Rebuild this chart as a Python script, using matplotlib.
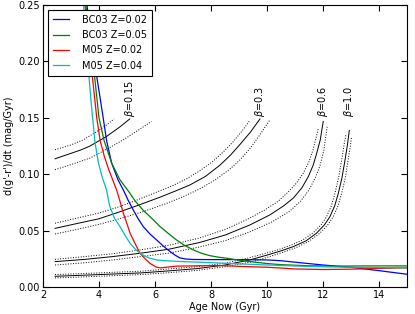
import matplotlib
matplotlib.use("Agg")
import matplotlib.pyplot as plt

# model curves
cyan_x = [3.45, 3.55, 3.63, 3.74, 3.86, 3.98, 4.12, 4.27, 4.38, 4.55, 4.75, 4.95, 5.11, 5.3, 5.46, 5.65, 5.82, 6.05, 6.3,
          7.0, 8.0, 9.0, 10.0, 11.0, 12.0, 13.0, 14.0, 15.0]
cyan_y = [0.25, 0.215, 0.19, 0.158, 0.128, 0.110, 0.097, 0.086, 0.072, 0.061, 0.0536, 0.045, 0.0388, 0.0335, 0.030, 0.0272,
          0.0255, 0.024, 0.0234, 0.0225, 0.0216, 0.0205, 0.0195, 0.0186, 0.0179, 0.0175, 0.0172, 0.0170]

red_x = [3.5, 3.62, 3.77, 3.92, 4.04, 4.2, 4.35, 4.49, 4.63, 4.75, 4.87, 5.0, 5.11, 5.3, 5.46, 5.65, 5.82, 5.95, 6.06, 6.2,
         6.4, 6.77, 7.5, 8.3, 9.0, 10.0, 10.5, 11.0, 12.0, 13.0, 14.0, 15.0]
red_y = [0.25, 0.22, 0.185, 0.15, 0.13, 0.115, 0.104, 0.095, 0.086, 0.076, 0.0654, 0.056, 0.0477, 0.038, 0.030, 0.025, 0.021,
         0.019, 0.0175, 0.017, 0.0175, 0.0185, 0.0188, 0.019, 0.0183, 0.0175, 0.0168, 0.016, 0.0155, 0.0158, 0.0165, 0.017]

green_x = [3.53, 3.7, 3.85, 4.0, 4.18, 4.45, 4.75, 5.05, 5.3, 5.58, 5.9, 6.18, 6.5, 6.77, 7.05, 7.37, 7.65, 7.96, 8.25, 8.56,
           9.0, 9.5, 10.0, 10.5, 11.5, 12.5, 13.5, 15.0]
green_y = [0.25, 0.215, 0.185, 0.15, 0.13, 0.11, 0.095, 0.085, 0.076, 0.068, 0.0605, 0.0536, 0.047, 0.0417, 0.037, 0.0329,
           0.0300, 0.0278, 0.0265, 0.0255, 0.0238, 0.0222, 0.0208, 0.0198, 0.0188, 0.0185, 0.0187, 0.0187]

blue_x = [3.57, 3.75, 3.93, 4.05, 4.15, 4.27, 4.45, 4.68, 4.87, 5.05, 5.23, 5.4, 5.58, 5.82, 6.06, 6.3, 6.54, 6.72, 6.89,
          7.1, 7.37, 8.0, 9.0, 10.0, 10.5, 11.0, 12.0, 13.0, 14.0, 15.0]
blue_y = [0.25, 0.215, 0.185, 0.166, 0.15, 0.13, 0.11, 0.095, 0.086, 0.0765, 0.068, 0.0605, 0.0536, 0.047, 0.0417, 0.0362,
          0.0314, 0.0282, 0.0258, 0.0248, 0.0244, 0.0243, 0.0243, 0.024, 0.0233, 0.022, 0.0195, 0.0175, 0.0145, 0.0113]

# beta tracks: solid + two dotted bounds
b015_x = [2.43, 3.0, 3.35, 3.68, 4.27, 4.75, 5.1]
b015_y = [0.1137, 0.1185, 0.1215, 0.125, 0.1335, 0.142, 0.149]
b015_up_x = [2.43, 3.0, 3.44, 4.0, 4.27, 4.54]
b015_up_y = [0.1217, 0.126, 0.1305, 0.139, 0.1437, 0.149]
b015_lo_x = [2.43, 3.0, 3.68, 4.3, 4.87, 5.4, 5.88]
b015_lo_y = [0.104, 0.1085, 0.1143, 0.1225, 0.1305, 0.139, 0.1468]

b03_x = [2.43, 3.2, 4.0, 4.7, 5.46, 6.2, 6.8, 7.25, 7.8, 8.32, 8.7, 9.04, 9.4, 9.75]
b03_y = [0.052, 0.0562, 0.0605, 0.0663, 0.073, 0.0798, 0.0858, 0.0905, 0.098, 0.108, 0.117, 0.1265, 0.137, 0.149]
b03_up_x = [2.43, 3.2, 4.0, 4.7, 5.4, 6.0, 6.6, 7.1, 7.6, 8.05, 8.45, 8.8, 9.1, 9.4]
b03_up_y = [0.0565, 0.061, 0.0655, 0.071, 0.0775, 0.0835, 0.0895, 0.0955, 0.103, 0.111, 0.12, 0.129, 0.138, 0.148]
b03_lo_x = [2.43, 3.2, 4.0, 4.8, 5.6, 6.4, 7.0, 7.6, 8.15, 8.65, 9.05, 9.4, 9.75, 10.1]
b03_lo_y = [0.047, 0.051, 0.0555, 0.061, 0.067, 0.074, 0.080, 0.087, 0.095, 0.104, 0.113, 0.123, 0.135, 0.148]

b06_x = [2.43, 3.5, 4.5, 5.5, 6.5, 7.6, 8.5, 9.39, 10.11, 10.6, 10.94, 11.25, 11.48, 11.65, 11.77, 11.9, 12.01]
b06_y = [0.0225, 0.0245, 0.027, 0.030, 0.0335, 0.0395, 0.046, 0.055, 0.064, 0.072, 0.0788, 0.088, 0.098, 0.108, 0.118,
         0.130, 0.1468]
b06_up_x = [2.43, 3.5, 4.5, 5.5, 6.5, 7.6, 8.5, 9.3, 9.9, 10.4, 10.75, 11.05, 11.3, 11.5, 11.65, 11.83]
b06_up_y = [0.0245, 0.027, 0.0295, 0.033, 0.037, 0.0435, 0.051, 0.060, 0.068, 0.076, 0.084, 0.092, 0.101, 0.111, 0.122,
            0.140]
b06_lo_x = [2.43, 3.5, 4.5, 5.5, 6.5, 7.6, 8.5, 9.4, 10.2, 10.8, 11.2, 11.5, 11.73, 11.9, 12.03, 12.15]
b06_lo_y = [0.0195, 0.0215, 0.024, 0.027, 0.030, 0.0355, 0.041, 0.049, 0.058, 0.067, 0.076, 0.086, 0.097, 0.108, 0.121,
            0.142]

b10_x = [2.43, 3.5, 4.5, 5.5, 6.5, 7.5, 8.5, 9.39, 9.99, 10.5, 10.94, 11.4, 11.77, 12.05, 12.25, 12.42, 12.55, 12.68,
         12.79, 12.88, 12.94]
b10_y = [0.0095, 0.0105, 0.0115, 0.0125, 0.0143, 0.0163, 0.0195, 0.024, 0.0282, 0.032, 0.0358, 0.041, 0.0477, 0.055,
         0.0624, 0.072, 0.0832, 0.097, 0.1128, 0.127, 0.1388]
b10_up_x = [2.43, 3.5, 4.5, 5.5, 6.5, 7.5, 8.5, 9.3, 9.9, 10.4, 10.85, 11.3, 11.65, 11.93, 12.13, 12.3, 12.43, 12.56,
            12.67, 12.76, 12.82]
b10_up_y = [0.011, 0.012, 0.013, 0.014, 0.016, 0.018, 0.021, 0.0255, 0.0295, 0.033, 0.037, 0.042, 0.048, 0.055, 0.0624,
            0.072, 0.0832, 0.097, 0.1128, 0.127, 0.135]
b10_lo_x = [2.43, 3.5, 4.5, 5.5, 6.5, 7.5, 8.5, 9.5, 10.1, 10.6, 11.05, 11.5, 11.88, 12.17, 12.37, 12.54, 12.67, 12.8,
            12.9, 12.98, 13.02]
b10_lo_y = [0.008, 0.009, 0.010, 0.011, 0.0127, 0.0147, 0.018, 0.0225, 0.027, 0.031, 0.035, 0.0405, 0.0475, 0.055, 0.0624,
            0.072, 0.0832, 0.097, 0.1128, 0.125, 0.133]

tracks = [
    (r"$\beta$=0.15", b015_x, b015_y, b015_up_x, b015_up_y, b015_lo_x, b015_lo_y),
    (r"$\beta$=0.3", b03_x, b03_y, b03_up_x, b03_up_y, b03_lo_x, b03_lo_y),
    (r"$\beta$=0.6", b06_x, b06_y, b06_up_x, b06_up_y, b06_lo_x, b06_lo_y),
    (r"$\beta$=1.0", b10_x, b10_y, b10_up_x, b10_up_y, b10_lo_x, b10_lo_y),
]

plt.rcParams['font.family'] = ['DejaVu Sans']
plt.rcParams['font.size'] = 7

fig = plt.figure(figsize=(4.15, 3.14), dpi=100)
ax = fig.add_axes([0.1036, 0.086, 0.877, 0.898])

for lab, sx, sy, ux, uy, lx, ly in tracks:
    ax.plot(sx, sy, color='k', lw=0.7)
    ax.plot(ux, uy, color='k', lw=0.7, ls=':')
    ax.plot(lx, ly, color='k', lw=0.7, ls=':')
    ax.text(sx[-1], 0.151, lab, rotation=90, ha='center', va='bottom', fontsize=7)

ax.plot(blue_x, blue_y, color='b', lw=0.9, label='BC03 Z=0.02')
ax.plot(green_x, green_y, color='g', lw=0.9, label='BC03 Z=0.05')
ax.plot(red_x, red_y, color='r', lw=0.9, label='M05 Z=0.02')
ax.plot(cyan_x, cyan_y, color='c', lw=0.9, label='M05 Z=0.04')

ax.set_xlim(2, 15)
ax.set_ylim(0, 0.25)
ax.set_xticks([2, 4, 6, 8, 10, 12, 14])
ax.set_yticks([0.0, 0.05, 0.10, 0.15, 0.20, 0.25])
ax.set_yticklabels(['0.00', '0.05', '0.10', '0.15', '0.20', '0.25'])
ax.tick_params(direction='in', top=True, right=True, length=4, labelsize=7, pad=2.5)
ax.set_xlabel('Age Now (Gyr)', fontsize=7, labelpad=1)
ax.set_ylabel("d(g'-r')/dt (mag/Gyr)", fontsize=7, labelpad=3)

leg = ax.legend(loc='upper left', fontsize=7, fancybox=False, framealpha=1,
                edgecolor='k', handlelength=1.65, handletextpad=1.4,
                borderpad=0.5, labelspacing=0.55)
leg.get_frame().set_linewidth(0.8)

fig.savefig('out.png', dpi=100)
